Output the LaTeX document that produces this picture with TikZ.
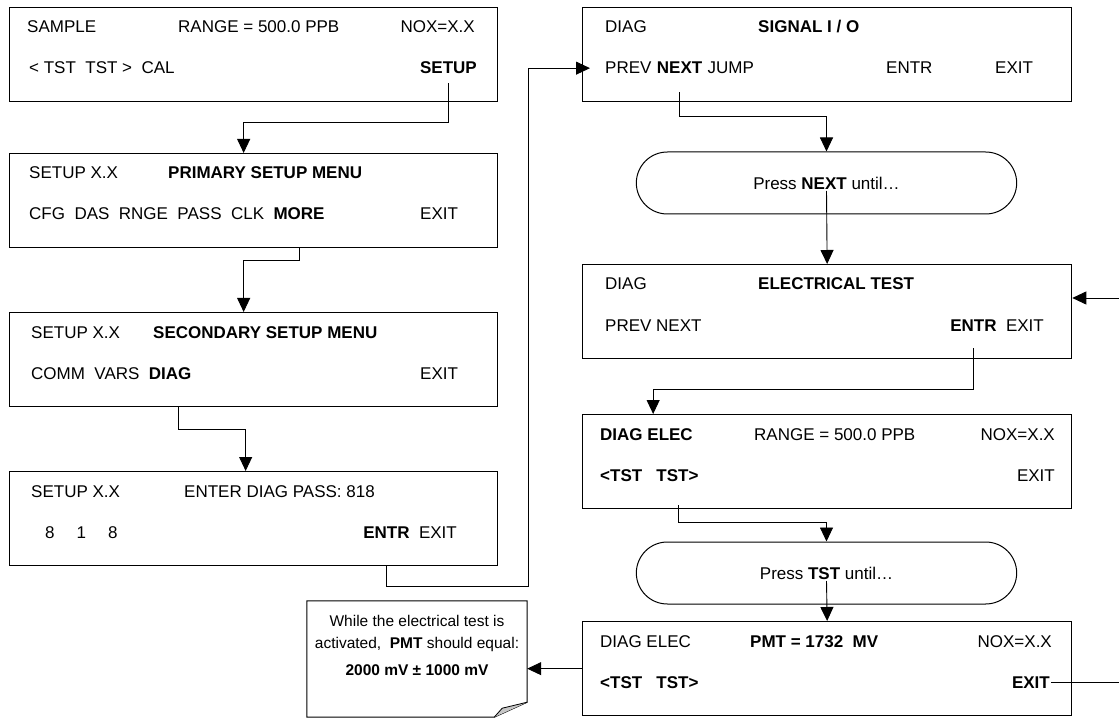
\documentclass[tikz,border=0pt]{standalone}
\usepackage{fontspec}
\setmainfont{Liberation Sans}
\usetikzlibrary{arrows.meta,shapes.misc}

\begin{document}
\begin{tikzpicture}[x=1pt,y=-1pt,
  scr/.style={draw,line width=1.3pt,minimum width=488pt,minimum height=94pt,anchor=north west,inner sep=0pt},
  pill/.style={draw,rounded rectangle,line width=1pt,minimum width=387pt,minimum height=62pt,font=\fontsize{17}{20}\selectfont},
  lbl/.style={anchor=base west,inner sep=0pt,font=\fontsize{17}{20}\selectfont},
  rlbl/.style={lbl,anchor=base east},
  wire/.style={line width=0.9pt},
  arr/.style={wire,-{Triangle[length=14pt,width=13pt]}}]
\useasboundingbox (0,0) rectangle (1119,719);

\node[scr] (b1) at (9,7) {};
\node[scr] (b2) at (9,153) {};
\node[scr] (b3) at (9,312) {};
\node[scr] (b4) at (9,471) {};

\node[scr,minimum width=489pt] (r1) at (582,7) {};
\node[scr,minimum width=489pt] (r2) at (582,264) {};
\node[scr,minimum width=489pt] (r3) at (582,414) {};
\node[scr,minimum width=489pt] (r4) at (582,621) {};

\node[pill] (p1) at (826.5,183) {Press \textbf{NEXT} until…};
\node[pill] (p2) at (826.5,573) {Press \textbf{TST} until…};

\node[lbl] (b1a) at (27,33) {SAMPLE};
\node[lbl] (b1b) at (178,33) {RANGE = 500.0 PPB};
\node[rlbl] (b1c) at (475,33) {NOX=X.X};
\node[lbl] (b1d) at (29,74) {< TST\ \ TST >\ \ CAL};
\node[rlbl] (b1k) at (477,74) {\textbf{SETUP}};

\node[lbl] (b2a) at (29,179) {SETUP X.X};
\node[lbl] (b2b) at (168,179) {\textbf{PRIMARY SETUP MENU}};
\node[lbl] (b2c) at (29,220) {CFG\ \ DAS\ \ RNGE\ \ PASS\ \ CLK};
\node[lbl] (b2k) at ([xshift=9pt]b2c.base east) {\textbf{MORE}};
\node[lbl] (b2d) at (420,220) {EXIT};

\node[lbl] (b3a) at (31,338) {SETUP X.X};
\node[lbl] (b3b) at (153,338) {\textbf{SECONDARY SETUP MENU}};
\node[lbl] (b3c) at (31,379) {COMM\ \ VARS};
\node[lbl] (b3k) at ([xshift=9pt]b3c.base east) {\textbf{DIAG}};
\node[lbl] (b3d) at (420,379) {EXIT};

\node[lbl] (b4a) at (31,497) {SETUP X.X};
\node[lbl] (b4b) at (184,497) {ENTER DIAG PASS: 818};
\node[lbl] (b4c) at (45,538) {8\hspace{22pt}1\hspace{22pt}8};
\node[rlbl] (b4d) at (457,538) {EXIT};
\node[rlbl] (b4k) at ([xshift=-9pt]b4d.base west) {\textbf{ENTR}};

\node[lbl] (r1a) at (605,33) {DIAG};
\node[lbl] (r1b) at (758,33) {\textbf{SIGNAL I / O}};
\node[lbl] (r1c) at (605,74) {PREV};
\node[lbl] (r1k) at ([xshift=5pt]r1c.base east) {\textbf{NEXT}};
\node[lbl] (r1d) at ([xshift=5pt]r1k.base east) {JUMP};
\node[lbl] (r1e) at (886,74) {ENTR};
\node[lbl] (r1f) at (995,74) {EXIT};

\node[lbl] (r2a) at (605,290) {DIAG};
\node[lbl] (r2b) at (758,290) {\textbf{ELECTRICAL TEST}};
\node[lbl] (r2c) at (605,331) {PREV NEXT};
\node[rlbl] (r2d) at (1044,331) {EXIT};
\node[rlbl] (r2k) at ([xshift=-9pt]r2d.base west) {\textbf{ENTR}};

\node[lbl] (r3a) at (600,440) {\textbf{DIAG ELEC}};
\node[lbl] (r3b) at (754,440) {RANGE = 500.0 PPB};
\node[rlbl] (r3c) at (1055,440) {NOX=X.X};
\node[lbl] (r3k) at (600,481) {\textbf{<TST\ \ \ TST>}};
\node[rlbl] (r3d) at (1055,481) {EXIT};

\node[lbl] (r4a) at (600,647) {DIAG ELEC};
\node[lbl] (r4b) at (750,647) {\textbf{PMT = 1732\ \ MV}};
\node[rlbl] (r4c) at (1052,647) {NOX=X.X};
\node[lbl] (r4d) at (600,688) {\textbf{<TST\ \ \ TST>}};
\node[rlbl] (r4k) at (1050,688) {\textbf{EXIT}};

\node[minimum width=220pt,minimum height=116pt,inner sep=0pt] (nt) at (417,659) {};
\draw[line width=1pt] (nt.north west) -- (nt.north east) -- ([yshift=15pt]nt.south east)
  -- ([xshift=-33pt]nt.south east) -- (nt.south west) -- cycle;
\draw[line width=0.8pt,fill=gray!45] ([xshift=-33pt]nt.south east) -- ([xshift=-25pt,yshift=9pt]nt.south east)
  -- ([yshift=15pt]nt.south east);
\node[align=center,inner sep=0pt,font=\fontsize{15.5}{22}\selectfont] (ntx) at ([yshift=14pt]nt.center)
  {While the electrical test is\\activated,\ \ \textbf{PMT} should equal:\\[5pt]\textbf{2000 mV ± 1000 mV}};

\coordinate (edge) at (1119,0);
\coordinate (in) at (1119,298);

\draw[arr] ([yshift=-9pt]b1k.south) -- ++(0,39) -| ([xshift=-10pt]b2.north);
\draw[arr] (b2.south -| b2k) -- ++(0,12) -| ([xshift=-10pt]b3.north);
\draw[arr] (b3.south -| b3k) ++(8,0) -- ++(0,22) -| ([xshift=-8pt]b4.north);
\draw[arr] (b4.south -| b4k) -- ++(0,20) -- ++(142,0) |- ([xshift=-15pt]r1c.west);
\draw[arr] (r1.south -| r1k) ++(0,-10) -- ++(0,24) -| (p1.north);
\draw[arr] ([yshift=-8pt]p1.center) -- (r2.north);
\draw[arr] (r2.south -| r2k) ++(0,-11) -- ++(0,41) -| ([xshift=-174pt]r3.north);
\draw[arr] (r3.south -| r3k.east) ++(-20,-4) -- ++(0,17) -| (p2.north);
\draw[arr] ([yshift=-8pt]p2.center) -- (r4.north);
\draw[arr] (r4.west) -- (r4.west -| nt.east);
\draw[wire] ([xshift=1pt]r4k.east) -- (r4k.east -| edge);
\draw[arr] (in) -- (in -| r2.east);

\end{tikzpicture}
\end{document}
